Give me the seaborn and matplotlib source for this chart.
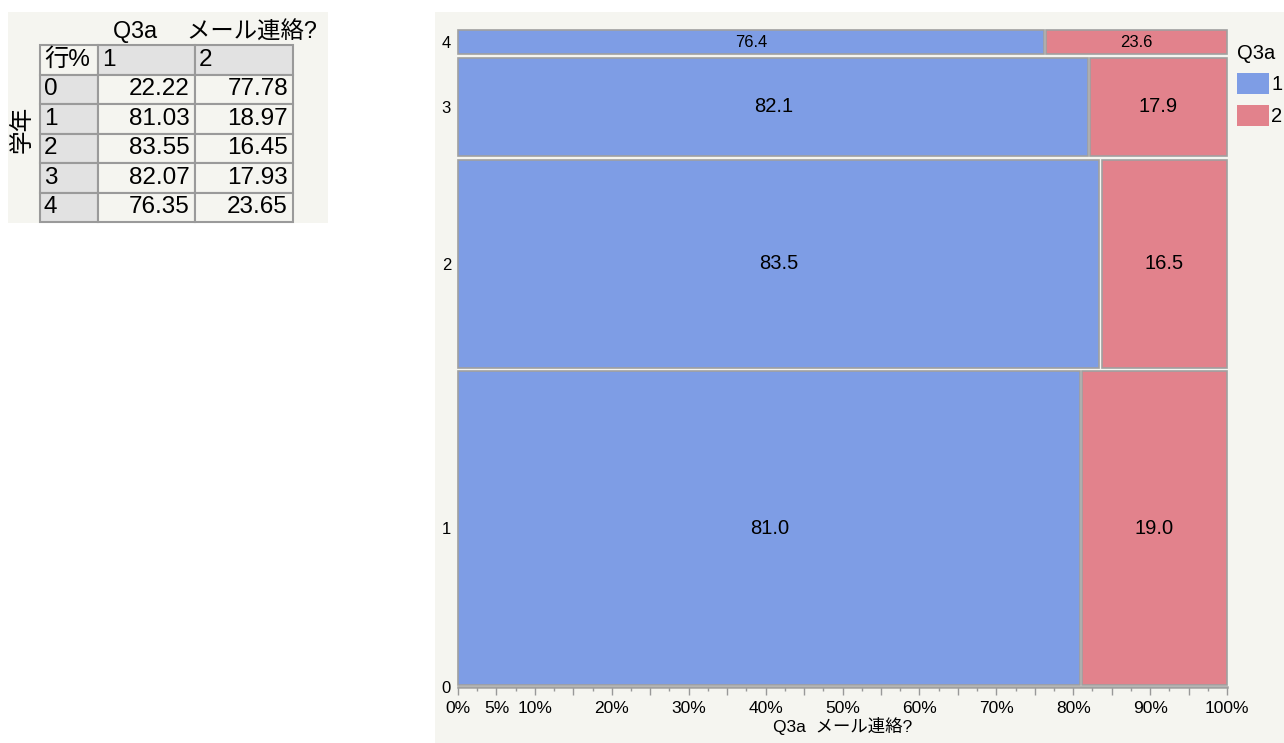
"""Mosaic plot of Q3a (email contact?) by school year, with the row-% table."""

from __future__ import annotations

import matplotlib

matplotlib.use("Agg")
import matplotlib.pyplot as plt
import pandas as pd
import seaborn as sns
from matplotlib.patches import Patch, Rectangle
from matplotlib.ticker import FixedLocator

W, H = 1284, 743

GRADES = ["0", "1", "2", "3", "4"]
LEVELS = ["1", "2"]
ROW_PCT_1 = [22.22, 81.03, 83.55, 82.07, 76.35]
ROW_PCT_2 = [77.78, 18.97, 16.45, 17.93, 23.65]
# share of the mosaic height taken by each school year (%)
ROW_SHARE = [0.0, 48.2, 32.1, 15.45, 4.25]
MOSAIC_LABEL_1 = ["22.2", "81.0", "83.5", "82.1", "76.4"]
MOSAIC_LABEL_2 = ["77.8", "19.0", "16.5", "17.9", "23.6"]
X_TICKS = list(range(0, 101, 5))
X_LABELED = [0, 5, 10, 20, 30, 40, 50, 60, 70, 80, 90, 100]
TABLE_TITLE = "Q3a\u3000 メール連絡?"
X_TITLE = "Q3a  メール連絡?"

BLUE = "#7E9DE5"
RED = "#E2828C"
EDGE = "#A0A0A0"
PANEL = "#F5F5F0"
HEADER = "#E2E2E2"


def fig_rect(x0: float, y0: float, x1: float, y1: float) -> list[float]:
    """Pixel box (top-left origin) -> figure fraction [left, bottom, w, h]."""
    return [x0 / W, 1 - y1 / H, (x1 - x0) / W, (y1 - y0) / H]


def draw_table(fig: plt.Figure) -> None:
    ax = fig.add_axes(fig_rect(40, 45, 293, 222))
    ax.axis("off")
    col_px = [58, 97, 98]
    cells = [["行%", LEVELS[0], LEVELS[1]]]
    cells += [[g, f"{a:.2f}", f"{b:.2f}"] for g, a, b in zip(GRADES, ROW_PCT_1, ROW_PCT_2)]
    tab = ax.table(cellText=cells, colWidths=[c / sum(col_px) for c in col_px],
                   bbox=[0, 0, 1, 1], cellLoc="right")
    tab.auto_set_font_size(False)
    tab.set_fontsize(17.5)
    for (r, c), cell in tab.get_celld().items():
        cell.set_edgecolor("#9A9A9A")
        cell.set_linewidth(1.5)
        if r == 0 or c == 0:
            cell.PAD = 4 / col_px[c]
            cell.get_text().set_ha("left")
        else:
            cell.PAD = 5 / col_px[c]
        grey = (r == 0 and c > 0) or (c == 0 and r > 0)
        cell.set_facecolor(HEADER if grey else PANEL)

    fig.text(113 / W, 1 - 31 / H, TABLE_TITLE, fontsize=16.8, va="center", ha="left")
    fig.text(23 / W, 1 - 129 / H, "学年", fontsize=17, rotation=90,
             va="center", ha="center")


def draw_mosaic(fig: plt.Figure) -> None:
    ax = fig.add_axes(fig_rect(458, 28, 1227, 687))
    ax.set_facecolor("none")

    df = pd.DataFrame({"grade": GRADES, "pct_1": ROW_PCT_1, "pct_2": ROW_PCT_2,
                       "share": ROW_SHARE, "lab_1": MOSAIC_LABEL_1, "lab_2": MOSAIC_LABEL_2})
    df["top"] = df["share"].cumsum()
    df["center"] = df["top"] - df["share"] / 2
    vis = df[df["share"] > 0]

    gap_y, gap_x = 0.55, 0.3
    heights = vis["share"] - gap_y
    ax.barh(vis["center"], vis["pct_1"] - gap_x / 2, height=heights, left=0,
            color=BLUE, edgecolor=EDGE, linewidth=1.2, clip_on=False)
    ax.barh(vis["center"], vis["pct_2"] - gap_x / 2, height=heights,
            left=vis["pct_1"] + gap_x / 2,
            color=RED, edgecolor=EDGE, linewidth=1.2, clip_on=False)

    for _, row in vis.iterrows():
        size = 14.5 if row["share"] > 8 else 12
        ax.text(row["pct_1"] / 2, row["center"], row["lab_1"], ha="center",
                va="center", fontsize=size)
        ax.text(row["pct_1"] + row["pct_2"] / 2, row["center"], row["lab_2"],
                ha="center", va="center", fontsize=size)

    ax.set_xlim(0, 100)
    ax.set_ylim(0, 100)
    ax.set_yticks(df["center"], GRADES)
    ax.tick_params(axis="y", length=0, pad=5, labelsize=12)

    ax.xaxis.set_major_locator(FixedLocator(X_TICKS))
    ax.set_xticklabels([f"{t}%" if t in X_LABELED else "" for t in X_TICKS])
    ax.xaxis.set_minor_locator(FixedLocator([t + 2.5 for t in X_TICKS[:-1]]))
    ax.tick_params(axis="x", which="major", length=6, width=1, color="#999999",
                   labelsize=12.5, pad=4, bottom=True)
    ax.tick_params(axis="x", which="minor", length=3, width=1, color="#999999",
                   bottom=True)
    ax.set_xlabel(X_TITLE, fontsize=12.5, labelpad=1)

    for side in ("top", "right", "left"):
        ax.spines[side].set_visible(False)
    ax.spines["bottom"].set_color(EDGE)
    ax.spines["bottom"].set_linewidth(1.8)

    handles = [Patch(facecolor=c, edgecolor="none") for c in (BLUE, RED)]
    ax.legend(handles, LEVELS, title="Q3a", loc="upper left",
              bbox_to_anchor=(1237 / W, 1 - 44 / H), bbox_transform=fig.transFigure,
              frameon=False, fontsize=14.5, title_fontsize=14.5, handlelength=1.6,
              handleheight=1.25, handletextpad=0.1, labelspacing=0.5,
              borderpad=0, borderaxespad=0, alignment="left")


def main() -> None:
    sns.set_theme(style="white")
    plt.rcParams["font.family"] = ["Liberation Sans", "Noto Sans CJK JP"]
    plt.rcParams["text.color"] = "black"
    plt.rcParams["axes.labelcolor"] = "black"
    plt.rcParams["xtick.color"] = "black"
    plt.rcParams["ytick.color"] = "black"

    fig = plt.figure(figsize=(W / 100, H / 100), dpi=100, facecolor="white")
    for box in ((8, 12, 328, 223), (435, 12, W, H)):
        x0, y0, x1, y1 = box
        fig.patches.append(Rectangle((x0 / W, 1 - y1 / H), (x1 - x0) / W, (y1 - y0) / H,
                                     transform=fig.transFigure, facecolor=PANEL,
                                     edgecolor="none", zorder=-10))
    draw_table(fig)
    draw_mosaic(fig)
    fig.savefig("out.png", dpi=100)
    plt.close(fig)


if __name__ == "__main__":
    main()
